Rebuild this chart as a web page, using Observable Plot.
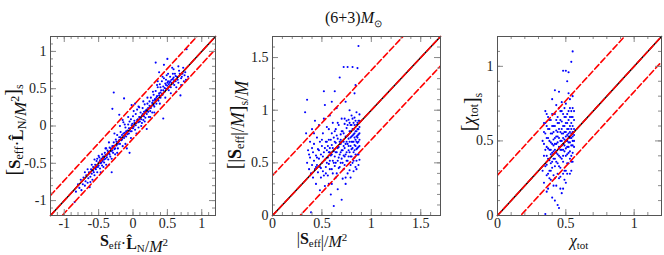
<!DOCTYPE html>
<html><head><meta charset="utf-8">
<script src="https://cdn.jsdelivr.net/npm/d3@7"></script>
<script src="https://cdn.jsdelivr.net/npm/@observablehq/plot@0.6"></script>
<style>
html,body{margin:0;padding:0;background:#fff;}
#wrap{position:relative;width:664px;height:255px;overflow:hidden;background:#fff;}
#wrap svg{position:absolute;top:0;}
</style></head><body><div id="wrap"></div>
<script>
const FONT = "Liberation Serif, Times New Roman, serif";

// ---- Panel 1: S_eff·L_N/M^2 (x) vs recovered (y)
const pts1 = [
[-0.85,-1.02],[-0.83,-0.88],[-0.80,-0.78],[-0.78,-0.83],[-0.76,-0.72],[-0.75,-0.86],[-0.73,-0.78],[-0.72,-0.69],
[-0.70,-0.80],[-0.69,-0.74],[-0.68,-0.66],[-0.66,-0.76],[-0.65,-0.70],[-0.64,-0.62],[-0.63,-0.82],[-0.62,-0.68],
[-0.61,-0.58],[-0.60,-0.64],[-0.59,-0.72],[-0.58,-0.55],[-0.57,-0.62],[-0.56,-0.66],[-0.55,-0.52],[-0.54,-0.58],
[-0.53,-0.47],[-0.52,-0.62],[-0.51,-0.55],[-0.50,-0.49],[-0.49,-0.42],[-0.48,-0.57],[-0.47,-0.50],[-0.46,-0.44],
[-0.45,-0.38],[-0.45,-0.53],[-0.44,-0.47],[-0.43,-0.41],[-0.42,-0.49],[-0.41,-0.36],[-0.40,-0.44],[-0.39,-0.52],
[-0.38,-0.39],[-0.37,-0.33],[-0.36,-0.45],[-0.35,-0.37],[-0.34,-0.29],[-0.33,-0.41],[-0.32,-0.34],[-0.31,-0.62],
[-0.30,-0.27],[-0.30,0.23],[-0.29,-0.36],[-0.28,0.45],[-0.28,-0.22],[-0.27,-0.31],[-0.26,-0.38],[-0.25,-0.18],
[-0.24,-0.26],[-0.23,-0.12],[-0.22,-0.30],[-0.21,-0.21],[-0.20,0.15],[-0.20,-0.15],[-0.19,-0.24],[-0.18,-0.08],
[-0.17,-0.19],[-0.16,-0.12],[-0.15,-0.27],[-0.14,0.05],[-0.13,0.37],[-0.13,-0.16],[-0.12,-0.09],[-0.11,-0.02],
[-0.10,-0.14],[-0.09,-0.30],[-0.08,-0.06],[-0.07,0.02],[-0.06,-0.10],[-0.05,-0.36],[-0.05,0.06],[-0.04,-0.03],
[-0.03,0.09],[-0.02,-0.07],[-0.01,0.03],[0.00,0.13],[0.01,-0.01],[0.02,0.07],[0.03,-0.05],[0.04,0.16],
[0.05,0.04],[0.06,0.22],[0.07,0.09],[0.08,-0.02],[0.09,0.12],[0.10,0.06],[0.11,0.18],[0.12,0.00],
[0.13,0.14],[0.14,0.24],[0.15,0.08],[0.16,0.19],[0.17,0.29],[0.18,0.11],[0.19,0.21],[0.20,-0.04],
[0.20,0.16],[0.21,0.30],[0.22,0.24],[0.23,0.12],[0.24,0.33],[0.25,0.20],[0.26,0.38],[0.27,0.27],
[0.28,0.18],[0.29,0.34],[0.30,0.42],[0.31,0.26],[0.32,0.36],[0.33,0.85],[0.33,0.47],[0.34,0.30],
[0.35,0.40],[0.36,0.52],[0.37,0.34],[0.38,0.72],[0.38,0.44],[0.39,0.56],[0.40,0.38],[0.41,0.48],
[0.42,0.60],[0.43,0.42],[0.44,0.10],[0.44,0.53],[0.45,0.82],[0.45,0.64],[0.46,0.46],[0.47,0.57],
[0.48,0.50],[0.49,0.68],[0.50,0.90],[0.50,0.54],[0.51,0.60],[0.52,0.48],[0.53,0.58],[0.54,0.66],
[0.55,0.52],[0.56,0.62],[0.57,0.78],[0.58,0.57],[0.59,0.65],[0.60,0.55],[0.61,0.70],[0.62,0.60],
[0.64,0.66],[0.66,0.58],[0.67,0.74],[0.69,0.41],[0.70,0.64],[0.72,0.70],[0.74,0.60],[0.76,0.72],
[0.78,1.03],[0.80,0.66],[-0.02,0.28],[0.03,0.30],[0.08,0.26],[-0.40,-0.30],[-0.52,-0.44],[0.36,0.60],
[0.48,0.62],[0.58,0.70],[0.63,0.52],[-0.12,0.02],[0.15,0.33],[-0.35,-0.52],[-0.60,-0.52],[0.40,0.52],
[-0.58,-0.60],[-0.55,-0.57],[-0.53,-0.55],[-0.50,-0.53],[-0.48,-0.46],[-0.46,-0.49],[-0.44,-0.42],[-0.42,-0.45],
[-0.40,-0.39],[-0.38,-0.42],[-0.36,-0.35],[-0.34,-0.38],[-0.32,-0.30],[-0.30,-0.33],[-0.28,-0.27],[-0.26,-0.30],
[-0.24,-0.21],[-0.22,-0.24],[-0.20,-0.19],[-0.18,-0.15],[-0.16,-0.18],[-0.14,-0.10],[-0.12,-0.13],[-0.10,-0.07],
[-0.08,-0.11],[-0.06,-0.03],[-0.04,-0.07],[-0.02,0.01],[0.00,-0.03],[0.02,0.04],[0.04,0.01],[0.06,0.08],
[0.08,0.05],[0.10,0.12],[0.12,0.09],[0.14,0.16],[0.16,0.13],[0.18,0.20],[0.20,0.22],[0.22,0.19],
[0.24,0.27],[0.26,0.24],[0.28,0.31],[0.30,0.28],[0.32,0.35],[0.34,0.38],[0.36,0.36],[0.38,0.41],
[0.40,0.45],[0.42,0.43],[0.44,0.48],[0.46,0.51],[0.48,0.55],[0.50,0.58],[0.52,0.56],[0.54,0.60],
[0.56,0.58],[0.58,0.63],[0.60,0.61],[0.62,0.67],[0.65,0.62],[0.68,0.70],[0.71,0.66],[0.75,0.68],
[-0.70,-0.62],[-0.66,-0.58],[-0.62,-0.75],[-0.56,-0.45],[-0.50,-0.40],[-0.47,-0.62],[-0.43,-0.55],[-0.39,-0.30],
[-0.35,-0.22],[-0.31,-0.44],[-0.27,-0.10],[-0.23,-0.36],[-0.19,0.00],[-0.15,0.08],[-0.11,-0.24],[-0.07,0.12],
[-0.03,-0.16],[0.01,0.20],[0.05,-0.10],[0.09,0.25],[0.13,0.04],[0.17,0.06],[0.21,0.38],[0.25,0.12],
[0.29,0.46],[0.31,0.18],[0.35,0.55],[0.39,0.30],[0.43,0.66],[0.47,0.38],[0.51,0.70],[0.55,0.44],
[0.59,0.76],[0.63,0.46],[0.66,0.80],[0.70,0.55],[0.73,0.78],[0.77,0.62]
];

// ---- Panel 2: |S_eff|/M^2 (x) vs recovered (y)
const pts2 = [
[0.33,0.98],[0.35,1.10],[0.34,0.78],[0.35,0.50],[0.36,0.62],[0.37,0.44],[0.38,0.70],[0.38,0.55],
[0.39,0.03],[0.39,0.40],[0.40,0.82],[0.40,0.48],[0.41,0.60],[0.41,0.36],[0.42,0.52],[0.42,0.68],
[0.43,0.44],[0.43,0.90],[0.44,0.57],[0.44,0.30],[0.45,0.74],[0.45,0.48],[0.46,0.63],[0.46,0.41],
[0.47,0.54],[0.47,0.86],[0.48,0.46],[0.48,0.70],[0.49,0.58],[0.49,0.36],[0.50,0.66],[0.50,0.50],
[0.51,0.78],[0.51,0.42],[0.52,1.18],[0.52,0.60],[0.52,0.92],[0.53,0.53],[0.53,0.28],[0.54,0.70],
[0.54,0.46],[0.55,0.84],[0.55,0.62],[0.56,0.55],[0.56,0.38],[0.57,0.72],[0.57,0.49],[0.58,0.64],
[0.58,0.95],[0.59,0.57],[0.59,0.20],[0.60,0.78],[0.60,0.44],[0.60,0.67],[0.61,0.52],[0.61,0.88],
[0.62,0.09],[0.62,0.61],[0.62,0.74],[0.63,0.47],[0.63,1.18],[0.63,0.56],[0.64,0.69],[0.64,0.82],
[0.65,0.40],[0.65,0.60],[0.65,1.02],[0.66,0.73],[0.66,0.52],[0.67,0.65],[0.67,0.86],[0.68,1.31],
[0.68,0.58],[0.68,0.46],[0.69,0.77],[0.69,0.68],[0.70,0.54],[0.70,0.92],[0.70,0.62],[0.71,0.35],
[0.71,0.80],[0.72,1.41],[0.72,0.70],[0.72,0.57],[0.73,0.87],[0.73,0.64],[0.73,0.48],[0.74,0.75],
[0.74,1.08],[0.75,0.60],[0.75,0.83],[0.76,1.41],[0.76,0.68],[0.76,0.52],[0.77,0.91],[0.77,0.73],
[0.77,0.62],[0.78,0.80],[0.78,0.43],[0.78,1.00],[0.79,0.66],[0.79,0.86],[0.79,0.56],[0.80,0.75],
[0.80,0.95],[0.80,0.63],[0.81,1.41],[0.81,0.82],[0.81,0.70],[0.81,0.50],[0.82,0.88],[0.82,0.60],
[0.82,0.77],[0.83,1.16],[0.83,0.67],[0.83,0.93],[0.83,0.55],[0.84,1.24],[0.84,0.80],[0.84,0.72],
[0.84,0.46],[0.85,0.86],[0.85,0.63],[0.85,0.98],[0.85,0.75],[0.86,1.40],[0.86,0.58],[0.86,0.82],
[0.86,0.69],[0.87,1.61],[0.87,0.90],[0.87,0.65],[0.87,0.77],[0.88,0.84],[0.88,0.72],[0.88,0.53],
[0.88,0.96],[0.57,0.30],[0.66,0.25],[0.74,0.36],[0.70,0.15],[0.48,0.24],[0.42,0.78],[0.53,1.05],
[0.60,1.08],[0.64,0.50],[0.69,0.72],[0.75,0.70],[0.79,0.74],[0.83,0.78],[0.86,0.74],[0.58,0.60],
[0.55,0.70],[0.56,0.66],[0.57,0.60],[0.58,0.52],[0.59,0.72],[0.60,0.58],[0.61,0.64],[0.62,0.50],
[0.63,0.70],[0.64,0.60],[0.65,0.76],[0.66,0.64],[0.67,0.55],[0.68,0.70],[0.69,0.60],[0.70,0.80],
[0.70,0.70],[0.71,0.62],[0.71,0.50],[0.72,0.78],[0.72,0.66],[0.73,0.56],[0.73,0.92],[0.74,0.68],
[0.74,0.58],[0.75,0.90],[0.75,0.52],[0.76,0.76],[0.76,0.86],[0.77,0.66],[0.77,0.56],[0.78,0.70],
[0.78,0.88],[0.78,0.60],[0.79,0.80],[0.79,0.48],[0.80,0.70],[0.80,0.86],[0.80,0.56],[0.81,0.76],
[0.81,0.64],[0.81,0.92],[0.82,0.70],[0.82,0.82],[0.82,0.52],[0.83,0.74],[0.83,0.62],[0.83,0.86],
[0.84,0.66],[0.84,0.90],[0.84,0.58],[0.85,0.80],[0.85,0.70],[0.85,0.52],[0.86,0.76],[0.86,0.88],
[0.86,0.64],[0.87,0.70],[0.87,0.82],[0.87,0.58],[0.88,0.78],[0.88,0.66],[0.88,0.90],[0.45,0.55],
[0.47,0.62],[0.49,0.45],[0.50,0.72],[0.51,0.56],[0.53,0.64],[0.54,0.40],[0.55,0.50],[0.57,0.82],
[0.58,0.44],[0.61,0.40],[0.63,0.80],[0.64,0.36],[0.66,0.88],[0.67,0.45],[0.69,0.50],[0.72,0.44],
[0.74,0.30],[0.76,0.40],[0.79,0.36],[0.82,0.42],[0.85,0.44],[0.87,0.48],[0.40,0.64],[0.37,0.58],
[0.44,0.46],[0.52,0.38],[0.60,0.30]
];

// ---- Panel 3: chi_tot (x) vs recovered (y)
const pts3 = [
[0.33,0.30],[0.33,0.50],[0.34,0.62],[0.34,0.40],[0.34,0.22],[0.35,0.70],[0.35,0.01],[0.35,0.55],
[0.35,0.33],[0.36,0.46],[0.36,0.27],[0.36,0.60],[0.37,0.38],[0.37,0.52],[0.37,0.18],[0.37,0.66],
[0.38,0.44],[0.38,0.30],[0.38,0.58],[0.39,0.35],[0.39,0.49],[0.39,0.64],[0.39,0.24],[0.40,0.78],
[0.40,0.42],[0.40,0.55],[0.40,0.12],[0.40,0.32],[0.41,0.47],[0.41,0.60],[0.41,0.38],[0.41,0.27],
[0.42,0.84],[0.42,0.52],[0.42,0.44],[0.42,0.68],[0.43,0.36],[0.43,0.57],[0.43,0.48],[0.43,0.20],
[0.44,0.62],[0.44,0.41],[0.44,0.07],[0.44,0.53],[0.45,0.83],[0.45,0.46],[0.45,0.72],[0.45,0.33],
[0.45,0.58],[0.46,0.50],[0.46,0.39],[0.46,0.64],[0.46,0.26],[0.47,0.55],[0.47,0.44],[0.47,0.70],
[0.47,0.15],[0.48,0.97],[0.48,0.48],[0.48,0.60],[0.48,0.36],[0.48,0.52],[0.49,0.66],[0.49,0.43],
[0.49,0.56],[0.49,0.30],[0.50,0.97],[0.50,0.50],[0.50,0.62],[0.50,0.40],[0.50,0.75],[0.51,0.90],
[0.51,0.54],[0.51,0.46],[0.51,0.68],[0.51,0.35],[0.52,0.96],[0.52,0.58],[0.52,0.49],[0.52,0.42],
[0.52,0.64],[0.53,0.52],[0.53,0.72],[0.53,0.38],[0.53,0.60],[0.54,1.03],[0.54,0.55],[0.54,0.47],
[0.54,0.66],[0.54,0.30],[0.55,1.10],[0.55,0.72],[0.55,0.50],[0.55,0.60],[0.55,0.42],[0.56,0.54],
[0.56,0.64],[0.56,0.46],[0.42,0.25],[0.46,0.18],[0.50,0.22],[0.53,0.28],[0.38,0.50],[0.41,0.51],
[0.44,0.49],[0.47,0.50],[0.49,0.51],[0.52,0.53],[0.55,0.56],[0.40,0.48],[0.43,0.53],[0.47,0.58],
[0.50,0.56],[0.36,0.40],[0.39,0.44],[0.45,0.40],[0.48,0.44],[0.51,0.62],[0.54,0.62],[0.44,0.66],
[0.34,0.48],[0.35,0.44],[0.35,0.62],[0.36,0.52],[0.36,0.34],[0.37,0.45],[0.37,0.58],[0.38,0.37],
[0.38,0.64],[0.39,0.55],[0.39,0.41],[0.40,0.60],[0.40,0.36],[0.41,0.43],[0.41,0.56],[0.42,0.48],
[0.42,0.60],[0.42,0.33],[0.43,0.42],[0.43,0.64],[0.44,0.56],[0.44,0.35],[0.45,0.52],[0.45,0.62],
[0.46,0.44],[0.46,0.56],[0.46,0.70],[0.47,0.47],[0.47,0.38],[0.47,0.63],[0.48,0.55],[0.48,0.68],
[0.48,0.40],[0.49,0.47],[0.49,0.60],[0.49,0.72],[0.50,0.53],[0.50,0.45],[0.50,0.66],[0.51,0.50],
[0.51,0.58],[0.51,0.41],[0.52,0.55],[0.52,0.70],[0.52,0.46],[0.53,0.49],[0.53,0.56],[0.53,0.66],
[0.53,0.43],[0.54,0.52],[0.54,0.58],[0.54,0.70],[0.54,0.40],[0.55,0.47],[0.55,0.53],[0.55,0.66],
[0.55,0.36],[0.56,0.50],[0.56,0.58],[0.56,0.70],[0.34,0.56],[0.36,0.68],[0.38,0.25],[0.40,0.68],
[0.41,0.20],[0.43,0.74],[0.44,0.28],[0.45,0.25],[0.46,0.32],[0.48,0.28],[0.49,0.24],[0.51,0.28],
[0.52,0.35],[0.53,0.78],[0.54,0.36],[0.50,0.30],[0.47,0.76],[0.42,0.38],[0.39,0.30],[0.37,0.28],
[0.36,0.16],[0.42,0.10],[0.45,0.05],[0.48,0.18],[0.52,0.82],[0.55,0.80]
];

// ---- axes / reference lines
const ticks1 = [-1, -0.5, 0, 0.5, 1];
const labels1 = ["-1", "-0.5", "0", "0.5", "1"];
const ticks2 = [0, 0.5, 1, 1.5];
const labels2 = ["0", "0.5", "1", "1.5"];
const ticks3 = [0, 0.5, 1];
const labels3 = ["0", "0.5", "1"];
const domain1 = [-1.2, 1.2];
const domain2 = [0, 1.7];
const domain3 = [0, 1.2];
// offsets of the dashed band lines (y = x + c)
const band1 = [0.27, -0.17];
const band2 = [0.38, -0.28];
const band3 = [0.27, -0.17];

const H = 255, MT = 36, MB = 40, PH = H - MT - MB;

function panel({pts, domain, ticks, labels, band, ml, pw, mr}) {
  const [lo, hi] = domain;
  const minor = d3.range(Math.round(lo * 10), Math.round(hi * 10) + 1).map(k => k / 10);
  const diag = [[lo, lo], [hi, hi]];
  const X = d => d[0], Y = d => d[1];
  const tickStroke = "#8a8a8a";
  const marks = [
    Plot.dot(pts, {x: X, y: Y, r: 1.05, fill: "#0000ff"}),
    Plot.line(diag, {x: X, y: Y, stroke: "#000", strokeWidth: 1.4}),
    Plot.line(diag, {x: X, y: Y, stroke: "#ff0000", strokeWidth: 1.6, strokeDasharray: "6,3"}),
    ...band.map(c => Plot.line([[lo, lo + c], [hi, hi + c]], {x: X, y: Y, stroke: "#ff0000", strokeWidth: 1.6, strokeDasharray: "6,3", clip: true})),
    Plot.tickX(minor, {x: d => d, insetTop: PH - 3, stroke: tickStroke}),
    Plot.tickX(minor, {x: d => d, insetBottom: PH - 3, stroke: tickStroke}),
    Plot.tickY(minor, {y: d => d, insetRight: pw - 3, stroke: tickStroke}),
    Plot.tickY(minor, {y: d => d, insetLeft: pw - 3, stroke: tickStroke}),
    Plot.tickX(ticks, {x: d => d, insetTop: PH - 6, stroke: tickStroke}),
    Plot.tickX(ticks, {x: d => d, insetBottom: PH - 6, stroke: tickStroke}),
    Plot.tickY(ticks, {y: d => d, insetRight: pw - 6, stroke: tickStroke}),
    Plot.tickY(ticks, {y: d => d, insetLeft: pw - 6, stroke: tickStroke}),
    Plot.frame({stroke: "#555"}),
    Plot.text(ticks, {x: d => d, text: (d, i) => labels[i], frameAnchor: "bottom", dy: 8, lineAnchor: "middle", fontSize: 14, fill: "#222", fontFamily: FONT}),
    Plot.text(ticks, {y: d => d, text: (d, i) => labels[i], frameAnchor: "left", dx: -4, textAnchor: "end", lineAnchor: "middle", fontSize: 14, fill: "#222", fontFamily: FONT})
  ];
  return Plot.plot({
    width: ml + pw + mr, height: H,
    marginLeft: ml, marginRight: mr, marginTop: MT, marginBottom: MB,
    x: {domain, axis: null}, y: {domain, axis: null},
    style: {fontFamily: FONT, background: "transparent", overflow: "visible"},
    marks
  });
}

const wrap = document.getElementById("wrap");
const cfgs = [
  {left: 0, pts: pts1, domain: domain1, ticks: ticks1, labels: labels1, band: band1, ml: 50, pw: 165, mr: 5},
  {left: 220, pts: pts2, domain: domain2, ticks: ticks2, labels: labels2, band: band2, ml: 52, pw: 168, mr: 2},
  {left: 442, pts: pts3, domain: domain3, ticks: ticks3, labels: labels3, band: band3, ml: 55, pw: 164, mr: 3}
];
for (const c of cfgs) {
  const svg = panel(c);
  svg.style.left = c.left + "px";
  wrap.appendChild(svg);
}

// ---- titles (rich text with sub/superscripts)
const sub = (t, s = 11, d = 3) => `<tspan font-size="${s}" dy="${d}">${t}</tspan><tspan dy="${-d}"></tspan>`;
const sup = (t, s = 11, d = -6) => `<tspan font-size="${s}" dy="${d}">${t}</tspan><tspan dy="${-d}"></tspan>`;
const B = t => `<tspan font-weight="bold">${t}</tspan>`;
const I = t => `<tspan font-style="italic">${t}</tspan>`;
const br = (t, s) => `<tspan font-size="${s}">${t}</tspan>`;

const xl1 = `${B("S")}${sub("eff")}·${B("L\u0302")}${sub("N")}/${I("M")}${sup("2")}`;
const yl1 = `${br("[", 20)}${B("S")}${sub("eff", 12)}·${B("L\u0302")}${sub("N", 12)}/${I("M")}${sup("2", 12, -7)}${br("]", 20)}${sub("s", 12, 4)}`;
const xl2 = `|${B("S")}${sub("eff")}|/${I("M")}${sup("2")}`;
const yl2 = `${br("[", 20)}|${B("S")}${sub("eff", 12)}|/${I("M")}${br("]", 20)}${sub("s", 12, 4)}/${I("M")}`;
const xl3 = `${I("χ")}${sub("tot")}`;
const yl3 = `${br("[", 20)}${I("χ")}${sub("tot", 12)}${br("]", 20)}${sub("s", 12, 4)}`;

const overlay = `
<svg xmlns="http://www.w3.org/2000/svg" width="664" height="255" style="left:0;pointer-events:none" font-family="${FONT}" fill="#111">
  <text x="325" y="23" font-size="16">(6+3)${I("M")}${sub("⊙", 10, 4)}</text>
  <text x="134" y="246" font-size="16" text-anchor="middle">${xl1}</text>
  <text transform="translate(20,130) rotate(-90)" font-size="17" text-anchor="middle">${yl1}</text>
  <text x="322" y="244" font-size="16" text-anchor="middle">${xl2}</text>
  <text transform="translate(241,125) rotate(-90)" font-size="18" text-anchor="middle">${yl2}</text>
  <text x="579" y="246" font-size="16" text-anchor="middle">${xl3}</text>
  <text transform="translate(475,112) rotate(-90)" font-size="18" text-anchor="middle">${yl3}</text>
</svg>`;
wrap.insertAdjacentHTML("beforeend", overlay);
</script>
</body></html>
